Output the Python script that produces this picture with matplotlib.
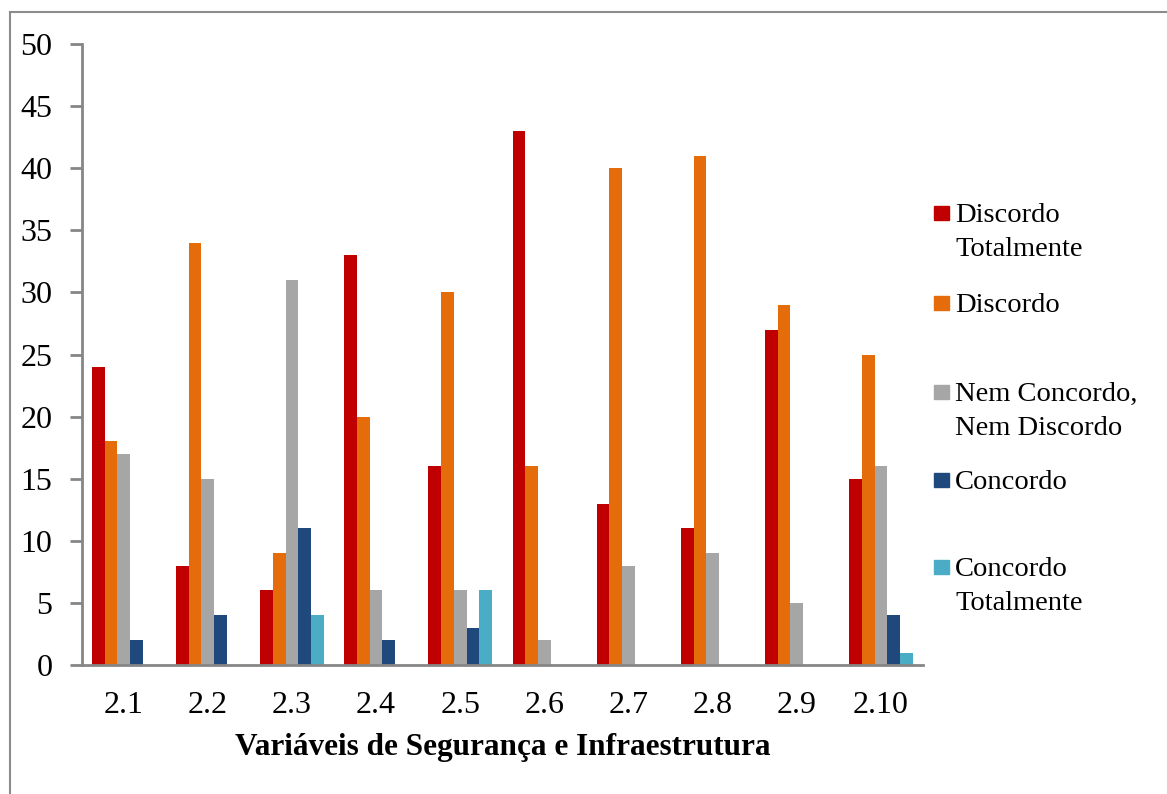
import numpy as np
import matplotlib.pyplot as plt
from matplotlib.patches import Rectangle
from matplotlib.lines import Line2D

# dados
categorias = ['2.1', '2.2', '2.3', '2.4', '2.5', '2.6', '2.7', '2.8', '2.9', '2.10']
series = ['Discordo\nTotalmente', 'Discordo', 'Nem Concordo,\nNem Discordo',
          'Concordo', 'Concordo\nTotalmente']
discordo_tot = [24, 8, 6, 33, 16, 43, 13, 11, 27, 15]
discordo = [18, 34, 9, 20, 30, 16, 40, 41, 29, 25]
neutro = [17, 15, 31, 6, 6, 2, 8, 9, 5, 16]
concordo = [2, 4, 11, 2, 3, 0, 0, 0, 0, 4]
concordo_tot = [0, 0, 4, 0, 6, 0, 0, 0, 0, 1]
valores = [discordo_tot, discordo, neutro, concordo, concordo_tot]
cores = ['#C00000', '#E46C0A', '#A6A6A6', '#1F497D', '#4BACC6']

plt.rcParams['font.family'] = ['Liberation Serif', 'DejaVu Serif']

W, H = 1167, 794
fig = plt.figure(figsize=(W / 100, H / 100), dpi=100)
ax = fig.add_axes([81.6 / W, 1 - 665 / H, (923 - 81.6) / W, (665 - 44) / H])

x = np.arange(len(categorias))
w = 0.151
for i, (vals, cor) in enumerate(zip(valores, cores)):
    ax.bar(x + (i - 2) * w, vals, width=w, color=cor, edgecolor='none')

ax.set_xlim(-0.5, len(categorias) - 0.5)
ax.set_ylim(0, 50)
ax.set_yticks(range(0, 51, 5))
ax.set_xticks(x)
ax.set_xticklabels(categorias)
ax.tick_params(axis='y', labelsize=23, length=9, width=2, color='#868686', pad=12)
ax.tick_params(axis='x', labelsize=23, length=0, pad=19)
for s in ['top', 'right']:
    ax.spines[s].set_visible(False)
for s in ['left', 'bottom']:
    ax.spines[s].set_color('#868686')
    ax.spines[s].set_linewidth(2)
ax.set_xlabel('Variáveis de Segurança e Infraestrutura', fontsize=22.5,
              fontweight='bold', labelpad=9)

# legenda desenhada a mao (quadrado alinhado com a 1a linha)
centros = [213, 303, 392, 480, 567]
for lab, cor, yc in zip(series, cores, centros):
    fig.patches.append(Rectangle((934 / W, 1 - (yc + 7.3) / H), 14.5 / W, 14.5 / H,
                                 transform=fig.transFigure, color=cor))
    for k, linha in enumerate(lab.split('\n')):
        fig.text(955 / W, 1 - (yc + 9 + 34 * k) / H, linha, fontsize=20.5,
                 va='baseline', ha='left')

# borda do grafico
fig.add_artist(Line2D([10 / W, 10 / W], [0, 1 - 12 / H], color='#8C8C8C', lw=1.5))
fig.add_artist(Line2D([10 / W, 1], [1 - 12 / H, 1 - 12 / H], color='#8C8C8C', lw=1.5))

fig.savefig('out.png', dpi=100)
